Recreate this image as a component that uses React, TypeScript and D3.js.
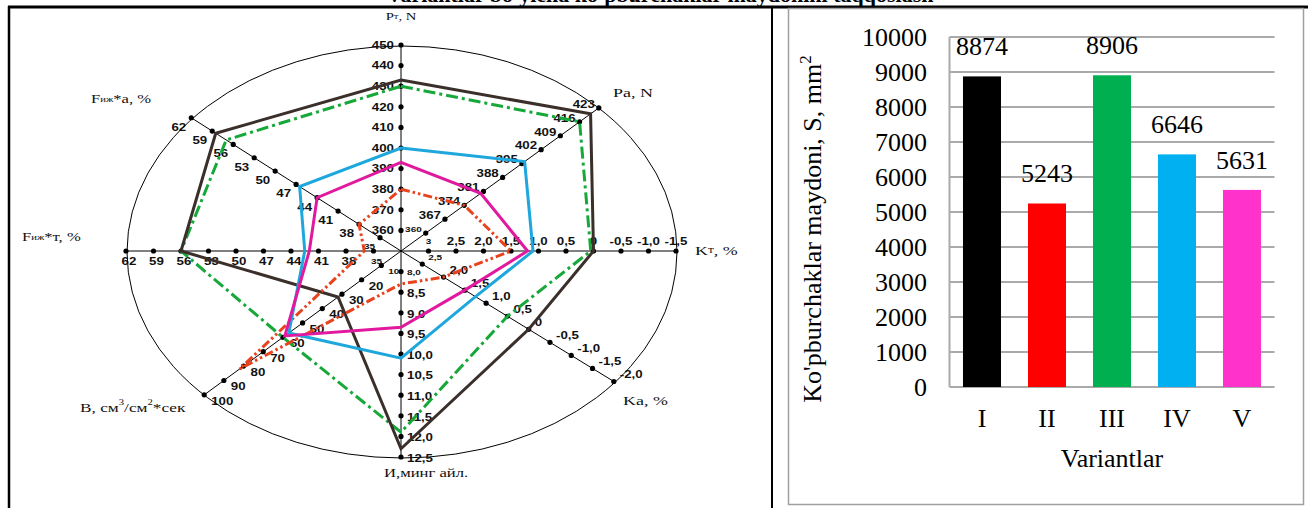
import React from "react";
import * as d3 from "d3";

const W = 1309;
const H = 508;

// ---------- radar (polygon) diagram ----------
const axisKeys = ["Pt", "Pa", "Kt", "Ka", "I", "B", "Ft", "Fa"];
const axisAngles = [90, 44, 0, -39.3, -90, -135.7, 180, 139.7];
const axisDomains: [number, number][] = [
  [350, 450],
  [351, 423],
  [3.5, -1.5],
  [3.0, -2.0],
  [7.5, 12.5],
  [0, 100],
  [32, 62],
  [32, 62],
];

const ptLabels = ["360", "370", "380", "390", "400", "410", "420", "430", "440", "450"];
const paLabels = ["360", "367", "374", "381", "388", "395", "402", "409", "416", "423"];
const ktLabels = ["3", "2,5", "2,0", "1,5", "1,0", "0,5", "0", "-0,5", "-1,0", "-1,5"];
const kaLabels = ["2,5", "2,0", "1,5", "1,0", "0,5", "0", "-0,5", "-1,0", "-1,5", "-2,0"];
const iLabels = ["8,0", "8,5", "9,0", "9,5", "10,0", "10,5", "11,0", "11,5", "12,0", "12,5"];
const bLabels = ["10", "20", "30", "40", "50", "60", "70", "80", "90", "100"];
const ftLabels = ["35", "38", "41", "44", "47", "50", "53", "56", "59", "62"];
const faLabels = ["35", "38", "41", "44", "47", "50", "53", "56", "59", "62"];
const tickLabels = [ptLabels, paLabels, ktLabels, kaLabels, iLabels, bLabels, ftLabels, faLabels];

// values of each variant along the eight axes (Pt, Pa, Kt, Ka, И, B, Fт, Fa)
const variantI = [433, 420, 0, 0, 12.3, 32, 56, 58.5];
const variantII = [380, 374, 1.5, 2.0, 8.3, 82, 36, 38];
const variantIII = [430, 416, 0.05, 0.5, 11.9, 60, 56, 57];
const variantIV = [400, 396, 1.1, 1.25, 10.1, 57, 42.5, 46.5];
const variantV = [393, 380, 1.2, 1.5, 9.35, 59, 42, 44];

// ---------- bar chart ----------
const variants = ["I", "II", "III", "IV", "V"];
const areaValues = [8874, 5243, 8906, 6646, 5631];
const areaTicks = [0, 1000, 2000, 3000, 4000, 5000, 6000, 7000, 8000, 9000, 10000];
const barColors = ["#000000", "#ff0000", "#00b050", "#00b0f0", "#ff33cc"];

// geometry
const CX = 401;
const CY = 251;
const RX = 275;
const RY = 206;
const SX = 1.33; // horizontal stretch of the radar texts

const SANS = "'Liberation Sans', Arial, sans-serif";
const SERIF = "'Liberation Serif', 'Times New Roman', serif";

const parseLabel = (s: string) => parseFloat(s.replace(",", "."));

const axisScales = axisDomains.map((d) => d3.scaleLinear().domain(d).range([0, 1]));

function pointAt(axis: number, value: number): [number, number] {
  const f = axisScales[axis](value);
  const a = (axisAngles[axis] * Math.PI) / 180;
  return [CX + RX * f * Math.cos(a), CY - RY * f * Math.sin(a)];
}

// label placement around the tick dots, per axis
const labelPlacement: { anchor: string; dx: number; dy: number }[] = [
  { anchor: "end", dx: -7, dy: 0 },
  { anchor: "end", dx: -4, dy: -4 },
  { anchor: "middle", dx: 0, dy: -10 },
  { anchor: "start", dx: 6, dy: -7 },
  { anchor: "start", dx: 6, dy: 1 },
  { anchor: "start", dx: 7, dy: 6 },
  { anchor: "middle", dx: 3, dy: 10 },
  { anchor: "end", dx: -5, dy: 9 },
];

const seriesDefs = [
  { key: "III", values: variantIII, color: "#17a83a", dash: "12 4 3 4" },
  { key: "I", values: variantI, color: "#3a2f2b", dash: undefined },
  { key: "II", values: variantII, color: "#e8421e", dash: "9 3 2.5 3 2.5 3" },
  { key: "IV", values: variantIV, color: "#1ea7dd", dash: undefined },
  { key: "V", values: variantV, color: "#e0199e", dash: undefined },
];

function Stretched({
  x,
  y,
  anchor = "start",
  size,
  family,
  weight = "normal",
  children,
}: {
  x: number;
  y: number;
  anchor?: string;
  size: number;
  family: string;
  weight?: string;
  children: React.ReactNode;
}) {
  return (
    <text
      transform={`translate(${x},${y}) scale(${SX},1)`}
      textAnchor={anchor as any}
      dominantBaseline="central"
      fontSize={size}
      fontFamily={family}
      fontWeight={weight}
      fill="#111"
    >
      {children}
    </text>
  );
}

function Radar() {
  const line = d3
    .line<[number, number]>()
    .x((d) => d[0])
    .y((d) => d[1])
    .curve(d3.curveLinearClosed);

  return (
    <g>
      <ellipse cx={CX + 1} cy={CY + 1} rx={RX} ry={RY} fill="none" stroke="#000" strokeWidth={1} />
      {axisKeys.map((k, i) => {
        const end = pointAt(i, axisDomains[i][1]);
        return <line key={k} x1={CX} y1={CY} x2={end[0]} y2={end[1]} stroke="#000" strokeWidth={1} />;
      })}
      {axisKeys.map((k, i) =>
        tickLabels[i].map((s) => {
          const [x, y] = pointAt(i, parseLabel(s));
          return <circle key={k + s} cx={x} cy={y} r={2.6} fill="#000" />;
        })
      )}
      {axisKeys.map((k, i) =>
        tickLabels[i].map((s, j) => {
          const [x, y] = pointAt(i, parseLabel(s));
          const p = labelPlacement[i];
          return (
            <Stretched
              key={"l" + k + s}
              x={x + p.dx}
              y={y + p.dy}
              anchor={p.anchor}
              size={j === 0 && i !== 0 ? 7.5 : 10}
              family={SANS}
              weight="bold"
            >
              {s}
            </Stretched>
          );
        })
      )}
      {seriesDefs.map((s) => (
        <path
          key={s.key}
          d={line(s.values.map((v, i) => pointAt(i, v))) || ""}
          fill="none"
          stroke={s.color}
          strokeWidth={3}
          strokeDasharray={s.dash}
          strokeLinejoin="miter"
        />
      ))}
      {/* axis names */}
      <Stretched x={401} y={16} anchor="middle" size={11} family={SERIF}>
        P<tspan fontSize={8}>т</tspan>, N
      </Stretched>
      <Stretched x={613} y={92} size={13.5} family={SERIF}>
        Pa, N
      </Stretched>
      <Stretched x={695} y={250} size={13.5} family={SERIF}>
        K<tspan fontSize={10}>т</tspan>, %
      </Stretched>
      <Stretched x={623} y={400} size={13.5} family={SERIF}>
        Ka, %
      </Stretched>
      <Stretched x={384} y={473} size={12.5} family={SERIF}>
        И,минг айл.
      </Stretched>
      <Stretched x={80} y={407} size={13} family={SERIF}>
        B, см<tspan fontSize={8} dy={-5}>3</tspan>
        <tspan dy={5}>/см</tspan>
        <tspan fontSize={8} dy={-5}>2</tspan>
        <tspan dy={5}>*сек</tspan>
      </Stretched>
      <Stretched x={22} y={237} size={12.5} family={SERIF}>
        F<tspan fontSize={8}>иж</tspan>*т, %
      </Stretched>
      <Stretched x={91} y={99} size={12.5} family={SERIF}>
        F<tspan fontSize={8}>иж</tspan>*a, %
      </Stretched>
    </g>
  );
}

function Bars() {
  const x = d3.scaleBand<string>().domain(variants).range([949.5, 1274.5]).paddingInner(0.415).paddingOuter(0.2075);
  const y = d3.scaleLinear().domain([0, 10000]).range([387, 37]);
  const [x0, x1] = x.range();
  return (
    <g fontFamily={SERIF}>
      <rect x={788.5} y={8.5} width={515} height={496} fill="#fff" stroke="#a0a0a0" strokeWidth={1.5} />
      {areaTicks.map((t) => (
        <g key={t}>
          <line x1={x0} x2={x1} y1={y(t)} y2={y(t)} stroke="#aaaaaa" strokeWidth={2} />
          <text x={927} y={y(t)} textAnchor="end" dominantBaseline="central" fontSize={26} fill="#000">
            {t}
          </text>
        </g>
      ))}
      <line x1={x0} x2={x0} y1={y(10000)} y2={y(0)} stroke="#aaaaaa" strokeWidth={2} />
      {variants.map((v, i) => (
        <g key={v}>
          <rect x={x(v)} y={y(areaValues[i])} width={x.bandwidth()} height={y(0) - y(areaValues[i])} fill={barColors[i]} />
          <text x={(x(v) || 0) + x.bandwidth() / 2} y={y(areaValues[i]) - 21} textAnchor="middle" fontSize={26} fill="#000">
            {areaValues[i]}
          </text>
          <text x={(x(v) || 0) + x.bandwidth() / 2} y={427} textAnchor="middle" fontSize={26} fill="#000">
            {v}
          </text>
        </g>
      ))}
      <text x={1112} y={467} textAnchor="middle" fontSize={26} fill="#000">
        Variantlar
      </text>
      <text transform="translate(821,229) rotate(-90)" textAnchor="middle" fontSize={26} fill="#000">
        Ko'pburchaklar maydoni, S, mm<tspan fontSize={17} dy={-10}>2</tspan>
      </text>
    </g>
  );
}

export default function App() {
  return (
    <svg
      width={W}
      height={H}
      viewBox={`0 0 ${W} ${H}`}
      style={{ position: "absolute", left: 0, top: 0, background: "#fff", display: "block" }}
    >
      <rect width={W} height={H} fill="#fff" />
      {/* heading line, mostly above the visible area */}
      <text x={660} y={2} textAnchor="middle" fontFamily={SERIF} fontWeight="bold" fontSize={22} fill="#000">
        Variantlar bo'yicha ko'pburchaklar maydonini taqqoslash
      </text>
      {/* table frame */}
      <line x1={8} x2={1308} y1={7} y2={7} stroke="#000" strokeWidth={3} />
      <line x1={9} x2={9} y1={6} y2={H} stroke="#000" strokeWidth={2.5} />
      <line x1={772} x2={772} y1={6} y2={H} stroke="#000" strokeWidth={2} />
      <Radar />
      <Bars />
    </svg>
  );
}
